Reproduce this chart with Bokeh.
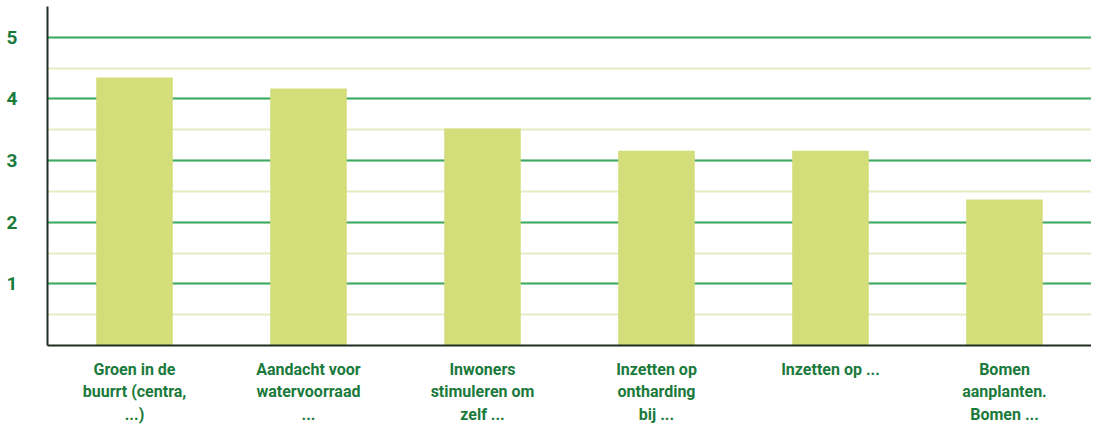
from bokeh.plotting import figure
from bokeh.embed import file_html
from bokeh.resources import INLINE
from bokeh.models import SingleIntervalTicker, Range1d, FactorRange

categories = [
    "Groen in de\nbuurrt (centra,\n...)",
    "Aandacht voor\nwatervoorraad\n...",
    "Inwoners\nstimuleren om\nzelf ...",
    "Inzetten op\nontharding\nbij ...",
    "Inzetten op ...",
    "Bomen\naanplanten.\nBomen ...",
]
values = [4.35, 4.17, 3.52, 3.16, 3.16, 2.37]

p = figure(
    x_range=FactorRange(*categories, range_padding=0),
    y_range=Range1d(0, 5.5),
    width=1091, height=427,
    output_backend="svg", toolbar_location=None,
    min_border_left=47, min_border_right=0, min_border_top=6, min_border_bottom=76,
)
p.x_range.factor_padding = 0
p.vbar(x=categories, top=values, width=0.44, color="#d3de7a", line_color=None)

p.outline_line_color = None
p.xgrid.grid_line_color = None
p.yaxis.ticker = SingleIntervalTicker(interval=1, num_minor_ticks=2)
p.yaxis.major_label_overrides = {0: ""}
p.ygrid.grid_line_color = "#3aaa64"
p.ygrid.grid_line_width = 2
p.ygrid.minor_grid_line_color = "#e6ebc4"
p.ygrid.minor_grid_line_width = 2
p.ygrid.level = "underlay"

for ax in (p.xaxis, p.yaxis):
    ax.axis_line_color = "#1e2e22"
    ax.axis_line_width = 2
    ax.major_tick_line_color = None
    ax.minor_tick_line_color = None
    ax.major_label_text_color = "#1a7a3c"
    ax.major_label_text_font = "Roboto"
    ax.major_label_text_font_style = "bold"

p.yaxis.major_label_text_font_size = "19px"
p.yaxis.major_label_standoff = 24
p.xaxis.major_label_text_font_size = "16px"
p.xaxis.major_label_standoff = 8
p.xaxis.major_label_text_line_height = 1.2

open("out.html", "w").write(file_html(p, INLINE))
